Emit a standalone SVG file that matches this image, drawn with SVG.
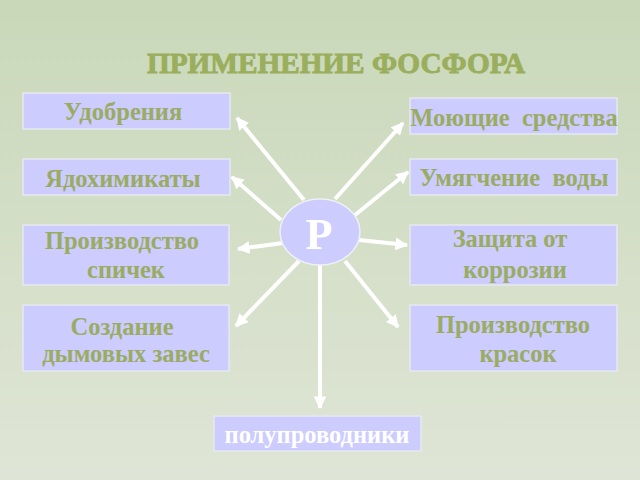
<svg xmlns="http://www.w3.org/2000/svg" width="640" height="480" viewBox="0 0 640 480">
<defs>
<linearGradient id="bg" x1="0" y1="0" x2="0" y2="1">
<stop offset="0" stop-color="#c9d8b9"/>
<stop offset="1" stop-color="#dfe5d6"/>
</linearGradient>
<marker id="ah" viewBox="0 0 10 10" refX="9" refY="5" markerWidth="3.2" markerHeight="3.2" orient="auto" markerUnits="strokeWidth">
<path d="M0,0 L10,5 L0,10 Z" fill="#ffffff"/>
</marker>
<style>
.box{fill:#ccccff;stroke:#e6e9f0;stroke-width:1.5}
.t{font-family:"Liberation Serif","Times New Roman",serif;font-weight:bold;font-size:24.5px;fill:#9aab62;text-anchor:middle}
.w{fill:#ffffff}
.title{font-family:"Liberation Serif","Times New Roman",serif;font-weight:900;font-size:30px;fill:#9aae5c;stroke:#9aae5c;stroke-width:0.9}
.c{stroke:#ffffff;stroke-width:4;fill:none;marker-end:url(#ah)}
</style>
</defs>
<rect x="0" y="0" width="640" height="480" fill="url(#bg)"/>
<text class="title" x="147" y="73" textLength="378" lengthAdjust="spacingAndGlyphs">ПРИМЕНЕНИЕ ФОСФОРА</text>
<g id="connectors">
<line class="c" x1="304" y1="200" x2="237" y2="118"/>
<line class="c" x1="281" y1="220" x2="232" y2="177"/>
<line class="c" x1="283" y1="243" x2="238" y2="249"/>
<line class="c" x1="299" y1="261" x2="236" y2="326"/>
<line class="c" x1="320" y1="265" x2="320" y2="408"/>
<line class="c" x1="345" y1="261" x2="398" y2="327"/>
<line class="c" x1="359" y1="240" x2="407" y2="245"/>
<line class="c" x1="355" y1="215" x2="408" y2="172"/>
<line class="c" x1="335" y1="199" x2="403" y2="123"/>
</g>
<g id="n-p">
<ellipse cx="320" cy="232" rx="40" ry="33" fill="#ccccff" stroke="#eef0f4" stroke-width="1.5"/>
<text class="t w" x="319" y="249" style="font-size:44px">P</text>
</g>
<g id="n-udobreniya">
<rect class="box" x="23" y="93" width="207" height="36"/>
<text class="t" x="123" y="120">Удобрения</text>
</g>
<g id="n-yadohimikaty">
<rect class="box" x="23" y="159" width="207" height="36"/>
<text class="t" x="123" y="187">Ядохимикаты</text>
</g>
<g id="n-spichek">
<rect class="box" x="23" y="225" width="206" height="60"/>
<text class="t" x="122" y="249">Производство</text>
<text class="t" x="126" y="278">спичек</text>
</g>
<g id="n-dym">
<rect class="box" x="23" y="305" width="206" height="66"/>
<text class="t" x="122" y="335">Создание</text>
<text class="t" x="126" y="362">дымовых завес</text>
</g>
<g id="n-moyushchie">
<rect class="box" x="410" y="98" width="207" height="36"/>
<text class="t" x="514" y="126" xml:space="preserve">Моющие  средства</text>
</g>
<g id="n-umyagchenie">
<rect class="box" x="410" y="159" width="207" height="36"/>
<text class="t" x="514" y="186" xml:space="preserve">Умягчение  воды</text>
</g>
<g id="n-korroziya">
<rect class="box" x="410" y="225" width="207" height="60"/>
<text class="t" x="510" y="247">Защита от</text>
<text class="t" x="515" y="278">коррозии</text>
</g>
<g id="n-kraski">
<rect class="box" x="410" y="305" width="207" height="66"/>
<text class="t" x="513" y="333">Производство</text>
<text class="t" x="518" y="362">красок</text>
</g>
<g id="n-poluprovodniki">
<rect class="box" x="214" y="416" width="207" height="35"/>
<text class="t w" x="317" y="443">полупроводники</text>
</g>
</svg>
